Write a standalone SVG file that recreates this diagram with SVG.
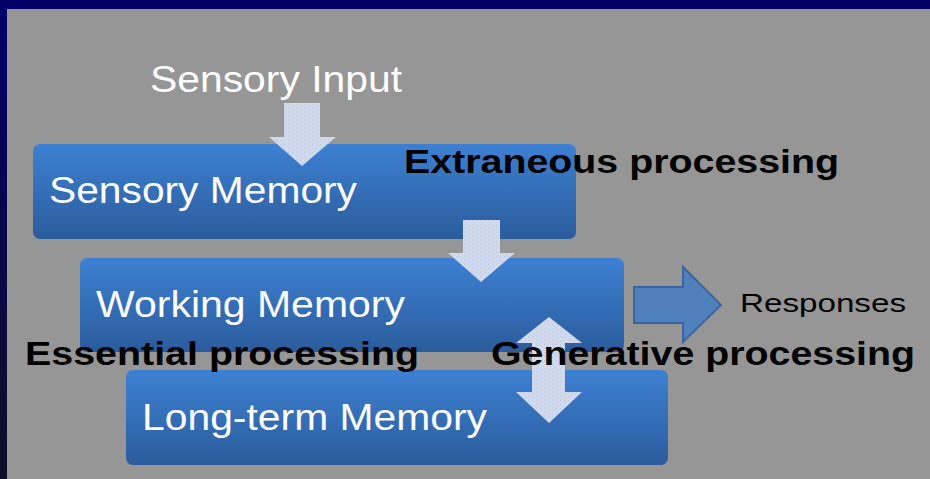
<svg xmlns="http://www.w3.org/2000/svg" width="930" height="479" viewBox="0 0 930 479">
<defs>
<linearGradient id="boxg" x1="0" y1="0" x2="0" y2="1">
<stop offset="0" stop-color="#3d80d2"/>
<stop offset="1" stop-color="#2b5c9c"/>
</linearGradient>
<linearGradient id="edge" x1="0" y1="0" x2="0" y2="1">
<stop offset="0" stop-color="#00006a"/>
<stop offset="1" stop-color="#0e0e26"/>
</linearGradient>
<pattern id="dots" width="4" height="4" patternUnits="userSpaceOnUse">
<rect width="4" height="4" fill="#d3dae9"/>
<rect x="0" y="0" width="1" height="1" fill="#b7c4de"/>
<rect x="2" y="2" width="1" height="1" fill="#c0cbe2"/>
</pattern>
</defs>
<style>
.box{fill:url(#boxg)}
.wt{font-family:"Liberation Sans",Arial,sans-serif;font-size:37px;fill:#ffffff}
.bt{font-family:"Liberation Sans",Arial,sans-serif;font-size:34px;font-weight:bold;fill:#000000}
.rt{font-family:"Liberation Sans",Arial,sans-serif;font-size:26px;fill:#000000}
.flow{fill:url(#dots)}
.out{fill:#4f81bd;stroke:#3a64a0;stroke-width:2}
</style>
<rect width="930" height="479" fill="#969696"/>
<rect width="930" height="9" fill="#000066"/>
<rect x="0" y="9" width="7" height="470" fill="url(#edge)"/>
<g id="sensory-memory"><rect class="box" x="33" y="144" width="543" height="95" rx="7"/><text class="wt" x="49" y="203" textLength="308" lengthAdjust="spacingAndGlyphs">Sensory Memory</text></g>
<g id="working-memory"><rect class="box" x="80" y="258" width="544" height="94" rx="7"/><text class="wt" x="96" y="317" textLength="309" lengthAdjust="spacingAndGlyphs">Working Memory</text></g>
<g id="long-term-memory"><rect class="box" x="126" y="370" width="542" height="95" rx="7"/><text class="wt" x="142" y="430" textLength="345" lengthAdjust="spacingAndGlyphs">Long-term Memory</text></g>
<g id="connectors">
<polygon class="flow" points="284,103 320,103 320,137 336,137 302,166 269,137 284,137"/>
<polygon class="flow" points="463,220 500,220 500,253 515,253 481,282 448,253 463,253"/>
<polygon class="flow" points="549,317 582,343 565,343 565,392 582,392 549,423 516,392 532,392 532,343 516,343"/>
<polygon class="out" points="634,287 683,287 683,267 721,305 683,342 683,323 634,323"/>
</g>
<g id="sensory-input"><text class="wt" x="150" y="92" textLength="252" lengthAdjust="spacingAndGlyphs">Sensory Input</text></g>
<g id="responses"><text class="rt" x="740" y="312" textLength="166" lengthAdjust="spacingAndGlyphs">Responses</text></g>
<g id="labels">
<text class="bt" x="404" y="173" textLength="435" lengthAdjust="spacingAndGlyphs">Extraneous processing</text>
<text class="bt" x="25" y="365" textLength="394" lengthAdjust="spacingAndGlyphs">Essential processing</text>
<text class="bt" x="491" y="365" textLength="424" lengthAdjust="spacingAndGlyphs">Generative processing</text>
</g>
</svg>
